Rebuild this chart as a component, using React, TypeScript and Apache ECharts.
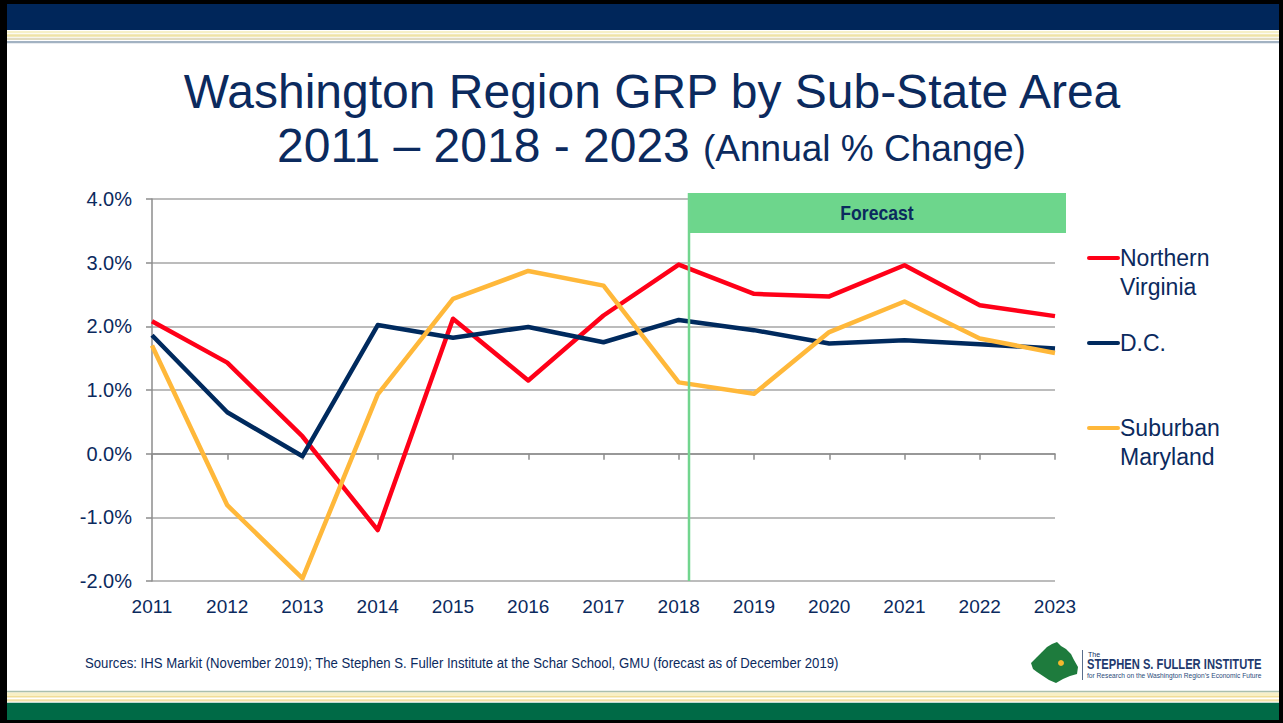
import React, { useEffect, useRef } from "react";
import * as echarts from "echarts";

// ---- data ----
const years = ["2011", "2012", "2013", "2014", "2015", "2016", "2017", "2018", "2019", "2020", "2021", "2022", "2023"];
const northernVirginia = [2.08, 1.43, 0.27, -1.2, 2.12, 1.15, 2.17, 2.97, 2.51, 2.47, 2.96, 2.33, 2.16];
const dc = [1.86, 0.65, -0.04, 2.02, 1.82, 1.99, 1.75, 2.1, 1.94, 1.73, 1.78, 1.72, 1.65];
const suburbanMaryland = [1.7, -0.81, -1.96, 0.93, 2.43, 2.87, 2.64, 1.12, 0.94, 1.91, 2.39, 1.81, 1.58];
const seriesNames = ["Northern Virginia", "D.C.", "Suburban Maryland"];
const legendLabels = [["Northern", "Virginia"], ["D.C."], ["Suburban", "Maryland"]];
const yMin = -2;
const yMax = 4;
const yStep = 1;
const titleLine1 = "Washington Region GRP by Sub-State Area";
const titleLine2a = "2011 \u2013 2018 - 2023";
const titleLine2b = "(Annual % Change)";
const forecastLabel = "Forecast";
const sourceText =
  "Sources: IHS Markit (November 2019); The Stephen S. Fuller Institute at the Schar School, GMU (forecast as of December 2019)";

const NAVY = "#0b2a5e";
const seriesColors = ["#ff0018", "#002a5e", "#ffb83a"];
const seriesData = [northernVirginia, dc, suburbanMaryland];
const ARIAL = "Arial, 'Liberation Sans', sans-serif";

export default function App() {
  const ref = useRef<HTMLDivElement>(null);
  useEffect(() => {
    if (!ref.current) return;
    const chart = echarts.init(ref.current, null, { renderer: "svg" });
    const legendY = [258, 343, 428];
    const graphic: any[] = [
      // frame & banners
      { type: "rect", shape: { x: 7, y: 4, width: 1276, height: 26 }, style: { fill: "#00265a" }, z: 1 },
      { type: "rect", shape: { x: 7, y: 31, width: 1276, height: 2.3 }, style: { fill: "#f6f0c8" }, z: 1 },
      { type: "rect", shape: { x: 7, y: 34.3, width: 1276, height: 2.4 }, style: { fill: "#efe3a6" }, z: 1 },
      { type: "rect", shape: { x: 7, y: 37.7, width: 1276, height: 2.3 }, style: { fill: "#e2dcc0" }, z: 1 },
      { type: "rect", shape: { x: 7, y: 41, width: 1276, height: 2.3 }, style: { fill: "#a2b2c2" }, z: 1 },
      { type: "rect", shape: { x: 7, y: 690.7, width: 1276, height: 1.8 }, style: { fill: "#a9bfae" }, z: 1 },
      { type: "rect", shape: { x: 7, y: 692.5, width: 1276, height: 3.5 }, style: { fill: "#f8f0c6" }, z: 1 },
      { type: "rect", shape: { x: 7, y: 696, width: 1276, height: 1.5 }, style: { fill: "#f0dd98" }, z: 1 },
      { type: "rect", shape: { x: 7, y: 699.3, width: 1276, height: 2.3 }, style: { fill: "#f3e0a4" }, z: 1 },
      { type: "rect", shape: { x: 7, y: 702.7, width: 1276, height: 17.3 }, style: { fill: "#006a46" }, z: 1 },
      { type: "rect", shape: { x: 0, y: 0, width: 1283, height: 4 }, style: { fill: "#000" }, z: 1 },
      { type: "rect", shape: { x: 0, y: 0, width: 7, height: 723 }, style: { fill: "#000" }, z: 1 },
      { type: "rect", shape: { x: 1279, y: 0, width: 4, height: 723 }, style: { fill: "#000" }, z: 1 },
      { type: "rect", shape: { x: 0, y: 720, width: 1283, height: 3 }, style: { fill: "#000" }, z: 1 },
      // titles
      {
        type: "text", x: 652, y: 91, z: 5,
        style: { text: titleLine1, fill: NAVY, font: "48px " + ARIAL, align: "center", verticalAlign: "middle" },
      },
      {
        type: "text", x: 277, y: 145, z: 5,
        style: { text: titleLine2a, fill: NAVY, font: "48px " + ARIAL, align: "left", verticalAlign: "middle" },
      },
      {
        type: "text", x: 703, y: 148.5, z: 5,
        style: { text: titleLine2b, fill: NAVY, font: "37px " + ARIAL, align: "left", verticalAlign: "middle" },
      },
      // forecast
      { type: "rect", shape: { x: 688, y: 193, width: 378, height: 40 }, style: { fill: "#6dd68c" }, z: 10 },
      { type: "line", shape: { x1: 689, y1: 193, x2: 689, y2: 581 }, style: { stroke: "#72d58e", lineWidth: 2.5 }, z: 10 },
      {
        type: "text", x: 877, y: 213, z: 11, scaleX: 0.88,
        style: { text: forecastLabel, fill: NAVY, font: "bold 20px " + ARIAL, align: "center", verticalAlign: "middle" },
      },
      // source
      {
        type: "text", x: 85, y: 663, z: 5, scaleX: 0.878,
        style: { text: sourceText, fill: NAVY, font: "15px " + ARIAL, align: "left", verticalAlign: "middle" },
      },
      // logo
      {
        type: "polygon", z: 5,
        shape: {
          points: [
            [1031, 663], [1037, 657], [1042, 652], [1047, 647], [1052, 644], [1057, 642], [1061, 646], [1066, 649],
            [1071, 654], [1074, 660], [1078, 667], [1077, 674], [1070, 676], [1063, 679], [1056, 683], [1049, 680],
            [1043, 676], [1037, 672], [1033, 669],
          ],
        },
        style: { fill: "#1e7b3d" },
      },
      { type: "circle", z: 6, shape: { cx: 1061, cy: 663, r: 3 }, style: { fill: "#f5b82e" } },
      { type: "line", z: 5, shape: { x1: 1082.5, y1: 650, x2: 1082.5, y2: 680 }, style: { stroke: "#5a6e8c", lineWidth: 1 } },
      { type: "text", x: 1088, y: 654, z: 5, style: { text: "The", fill: NAVY, font: "7px " + ARIAL, verticalAlign: "middle" } },
      {
        type: "text", x: 1087, y: 665, z: 5, scaleX: 0.8,
        style: { text: "STEPHEN S. FULLER INSTITUTE", fill: "#1f3a6e", font: "bold 14px " + ARIAL, verticalAlign: "middle" },
      },
      {
        type: "text", x: 1087, y: 675, z: 5, scaleX: 0.83,
        style: { text: "for Research on the Washington Region\u2019s Economic Future", fill: "#2b4a7a", font: "8px " + ARIAL, verticalAlign: "middle" },
      },
    ];
    // legend
    legendLabels.forEach((lines, i) => {
      const y = legendY[i];
      graphic.push({
        type: "line", z: 5,
        shape: { x1: 1089, y1: y, x2: 1118, y2: y },
        style: { stroke: seriesColors[i], lineWidth: 4, lineCap: "round" },
      });
      lines.forEach((t, j) => {
        graphic.push({
          type: "text", x: 1120, y: y + j * 28.5, z: 5,
          style: { text: t, fill: NAVY, font: "23px " + ARIAL, verticalAlign: "middle" },
        });
      });
    });

    chart.setOption({
      animation: false,
      backgroundColor: "#ffffff",
      grid: { left: 152, right: 228, top: 199, bottom: 142, containLabel: false },
      xAxis: [
        {
          type: "category",
          data: years,
          boundaryGap: false,
          position: "bottom",
          axisLine: { show: false, onZero: false },
          axisTick: { show: false },
          splitLine: { show: false },
          axisLabel: {
            margin: 16,
            color: NAVY,
            fontSize: 19,
            fontFamily: ARIAL,
          },
        },
        {
          type: "category",
          data: years,
          boundaryGap: false,
          position: "bottom",
          axisLine: { show: true, onZero: true, lineStyle: { color: "#8c8c8c", width: 1.5 } },
          axisTick: { show: true, length: 6, lineStyle: { color: "#8c8c8c", width: 1.5 } },
          axisLabel: { show: false },
          splitLine: { show: false },
        },
      ],
      yAxis: {
        type: "value",
        min: yMin,
        max: yMax,
        interval: yStep,
        axisLine: { show: true, lineStyle: { color: "#8c8c8c", width: 1.5 } },
        axisTick: { show: true, length: 6, lineStyle: { color: "#8c8c8c", width: 1.5 } },
        splitLine: { show: true, lineStyle: { color: "#a6a6a6", width: 1.5 } },
        axisLabel: {
          margin: 20,
          color: NAVY,
          fontSize: 20,
          fontFamily: ARIAL,
          formatter: (v: number) => v.toFixed(1) + "%",
        },
      },
      series: seriesNames.map((name, i) => ({
        name,
        type: "line",
        data: seriesData[i],
        xAxisIndex: 0,
        yAxisIndex: 0,
        symbol: "none",
        showSymbol: false,
        lineStyle: { width: 4.5, color: seriesColors[i], join: "round" },
        itemStyle: { color: seriesColors[i] },
        z: 3,
      })),
      graphic,
    });
    return () => chart.dispose();
  }, []);
  return (
    <div
      ref={ref}
      style={{ position: "absolute", left: 0, top: 0, width: 1283, height: 723, background: "#fff" }}
    />
  );
}
